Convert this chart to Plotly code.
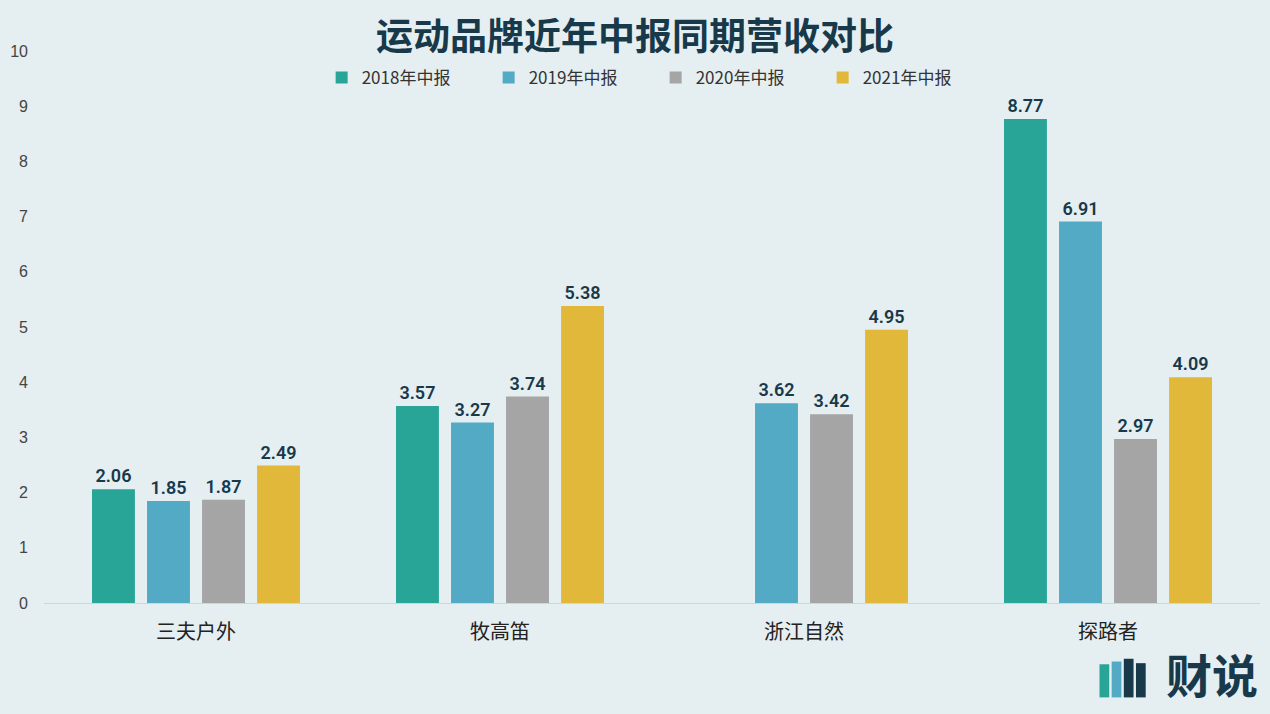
import plotly.graph_objects as go

categories = ["三夫户外", "牧高笛", "浙江自然", "探路者"]
series_names = ["2018年中报", "2019年中报", "2020年中报", "2021年中报"]
v2018 = [2.06, 3.57, None, 8.77]
v2019 = [1.85, 3.27, 3.62, 6.91]
v2020 = [1.87, 3.74, 3.42, 2.97]
v2021 = [2.49, 5.38, 4.95, 4.09]
colors = ["#29a598", "#52aac5", "#a5a5a5", "#e1b83a"]
y_ticks = [0, 1, 2, 3, 4, 5, 6, 7, 8, 9, 10]

BG = "#e5eef0"
DARK = "#17394a"

fig = go.Figure()
for name, vals, c in zip(series_names, [v2018, v2019, v2020, v2021], colors):
    fig.add_trace(go.Bar(
        x=categories, y=vals, name=name, marker_color=c, marker_line_width=0,
        text=[f"{v:.2f}" if v is not None else "" for v in vals],
        textposition="outside", cliponaxis=False,
        textfont=dict(family="Roboto", size=18, color=DARK, weight=600),
    ))

fig.update_layout(
    width=1270, height=714,
    paper_bgcolor=BG, plot_bgcolor=BG,
    margin=dict(l=44, r=10, t=51, b=111),
    barmode="group", bargap=0.276, bargroupgap=0.22,
    font=dict(family="Noto Sans CJK SC", color="#333333"),
    title=dict(text="<b>运动品牌近年中报同期营收对比</b>", x=0.5, xanchor="center",
               y=0.948, yanchor="middle",
               font=dict(family="Noto Sans CJK SC", size=37, color=DARK)),
    legend=dict(orientation="h", x=0.503, xanchor="center", y=0.951, yanchor="middle",
                font=dict(family="Noto Sans CJK SC", size=17, color="#333333"),
                entrywidth=122, itemwidth=30, bgcolor="rgba(0,0,0,0)",
                traceorder="normal"),
    showlegend=True,
)
fig.update_yaxes(range=[0, 10], tickvals=y_ticks, showgrid=False, zeroline=False,
                 showline=False, ticks="", ticklabelstandoff=15,
                 tickfont=dict(family="Liberation Sans, Arial", size=16, color="#444444"))
fig.update_xaxes(showgrid=False, showline=True, linecolor="#cdd6d9", linewidth=1,
                 ticks="", ticklabelstandoff=11,
                 tickfont=dict(family="Noto Sans CJK SC", size=20, color="#222222"))

# logo at bottom-right
fig.add_annotation(text="<b>财说</b>", xref="paper", yref="paper", x=1.0, y=-0.127,
                   xanchor="right", yanchor="middle", showarrow=False,
                   font=dict(family="Noto Sans CJK SC", size=46, color=DARK))
logo_bars = [(0.868, "#29a598", 0.060), (0.878, "#52aac5", 0.065), (0.888, DARK, 0.070), (0.898, DARK, 0.062)]
for x0, c, h in logo_bars:
    fig.add_shape(type="rect", xref="paper", yref="paper", x0=x0, x1=x0 + 0.008,
                  y0=-0.171, y1=-0.171 + h, fillcolor=c, line_width=0)

fig.write_html("out.html", config={"displayModeBar": False},
               post_script="document.body.style.margin='0';document.body.style.background='%s';" % BG)
